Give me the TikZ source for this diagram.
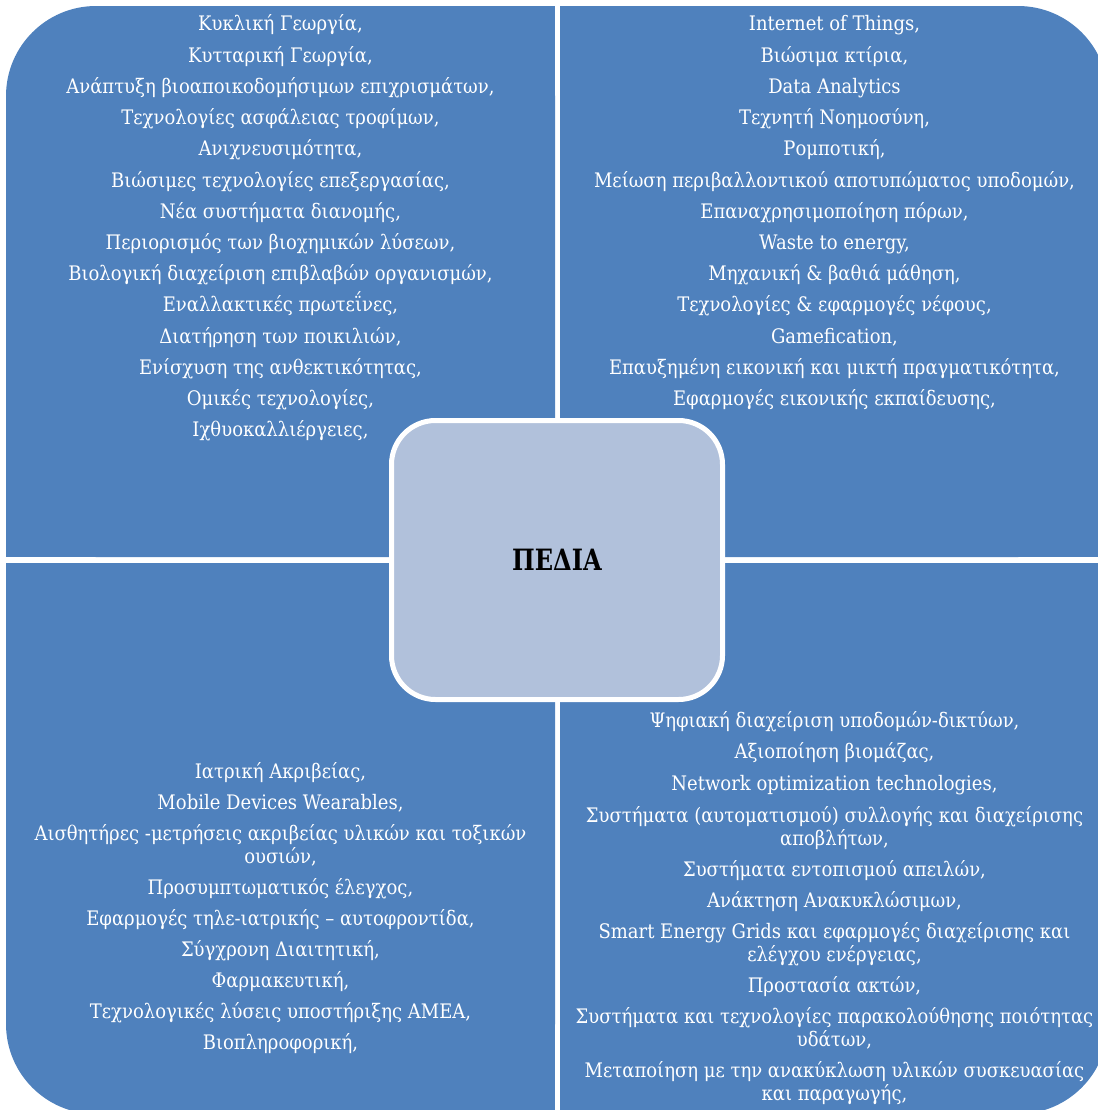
\documentclass[tikz,border=0pt]{standalone}
\usepackage{fontspec}
\setmainfont{DejaVu Serif}[FakeStretch=0.9]
\newfontfamily\titlefont{DejaVu Serif}[FakeStretch=0.82]
\definecolor{quad}{HTML}{4F81BD}
\definecolor{hubfill}{HTML}{B1C1DB}
\tikzset{
  quadfill/.style={fill=quad},
  quadround/.style={fill=quad, rounded corners=67.5pt},
  item/.style={text=white, anchor=base, inner sep=0pt, font=\fontsize{15pt}{18pt}\selectfont},
  hubbox/.style={draw=white, line width=3.75pt, fill=hubfill, rounded corners=33pt,
    minimum width=248.25pt, minimum height=209.25pt, inner sep=0pt,
    font=\titlefont\bfseries\fontsize{22pt}{26pt}\selectfont, text=black}
}
\begin{document}
\begin{tikzpicture}[x=0.75pt,y=-0.75pt]
\useasboundingbox (0,0) rectangle (1098,1110);
\clip (0,0) rectangle (1098,1110);
% top-left quadrant
\fill[quadround] (6,6) rectangle (555,557);
\fill[quadfill] (96,6) rectangle (555,557);
\fill[quadfill] (6,96) rectangle (555,557);
% top-right quadrant
\fill[quadround] (560,6) rectangle (1108,557);
\fill[quadfill] (560,6) rectangle (1018,557);
\fill[quadfill] (560,96) rectangle (1108,557);
% bottom-left quadrant
\fill[quadround] (6,563) rectangle (555,1114);
\fill[quadfill] (6,563) rectangle (555,1024);
\fill[quadfill] (96,563) rectangle (555,1114);
% bottom-right quadrant
\fill[quadround] (560,563) rectangle (1108,1114);
\fill[quadfill] (560,563) rectangle (1108,1024);
\fill[quadfill] (560,563) rectangle (1018,1114);

% top-left texts
\node[item] (tl1) at (280.5,31) {Κυκλική Γεωργία,};
\node[item] (tl2) at (280.5,62.2) {Κυτταρική Γεωργία,};
\node[item] (tl3) at (280.5,93.4) {Ανάπτυξη βιοαποικοδομήσιμων επιχρισμάτων,};
\node[item] (tl4) at (280.5,124.6) {Τεχνολογίες ασφάλειας τροφίμων,};
\node[item] (tl5) at (280.5,155.8) {Ανιχνευσιμότητα,};
\node[item] (tl6) at (280.5,187) {Βιώσιμες τεχνολογίες επεξεργασίας,};
\node[item] (tl7) at (280.5,218.2) {Νέα συστήματα διανομής,};
\node[item] (tl8) at (280.5,249.4) {Περιορισμός των βιοχημικών λύσεων,};
\node[item] (tl9) at (280.5,280.6) {Βιολογική διαχείριση επιβλαβών οργανισμών,};
\node[item] (tl10) at (280.5,311.8) {Εναλλακτικές πρωτεΐνες,};
\node[item] (tl11) at (280.5,343) {Διατήρηση των ποικιλιών,};
\node[item] (tl12) at (280.5,374.2) {Ενίσχυση της ανθεκτικότητας,};
\node[item] (tl13) at (280.5,405.4) {Ομικές τεχνολογίες,};
\node[item] (tl14) at (280.5,436.6) {Ιχθυοκαλλιέργειες,};

% top-right texts
\node[item] (tr1) at (834.5,31) {Internet of Things,};
\node[item] (tr2) at (834.5,62.2) {Βιώσιμα κτίρια,};
\node[item] (tr3) at (834.5,93.4) {Data Analytics};
\node[item] (tr4) at (834.5,124.6) {Τεχνητή Νοημοσύνη,};
\node[item] (tr5) at (834.5,155.8) {Ρομποτική,};
\node[item] (tr6) at (834.5,187) {Μείωση περιβαλλοντικού αποτυπώματος υποδομών,};
\node[item] (tr7) at (834.5,218.2) {Επαναχρησιμοποίηση πόρων,};
\node[item] (tr8) at (834.5,249.4) {Waste to energy,};
\node[item] (tr9) at (834.5,280.6) {Μηχανική \& βαθιά μάθηση,};
\node[item] (tr10) at (834.5,311.8) {Τεχνολογίες \& εφαρμογές νέφους,};
\node[item] (tr11) at (834.5,343) {Gamefication,};
\node[item] (tr12) at (834.5,374.2) {Επαυξημένη εικονική και μικτή πραγματικότητα,};
\node[item] (tr13) at (834.5,405.4) {Εφαρμογές εικονικής εκπαίδευσης,};

% bottom-left texts
\node[item] (bl1) at (280.5,778) {Ιατρική Ακριβείας,};
\node[item] (bl2) at (280.5,809) {Mobile Devices Wearables,};
\node[item] (bl3a) at (280.5,840) {Αισθητήρες -μετρήσεις ακριβείας υλικών και τοξικών};
\node[item] (bl3b) at (280.5,863) {ουσιών,};
\node[item] (bl4) at (280.5,894) {Προσυμπτωματικός έλεγχος,};
\node[item] (bl5) at (280.5,925) {Εφαρμογές τηλε-ιατρικής – αυτοφροντίδα,};
\node[item] (bl6) at (280.5,956) {Σύγχρονη Διαιτητική,};
\node[item] (bl7) at (280.5,987) {Φαρμακευτική,};
\node[item] (bl8) at (280.5,1018) {Τεχνολογικές λύσεις υποστήριξης ΑΜΕΑ,};
\node[item] (bl9) at (280.5,1049) {Βιοπληροφορική,};

% bottom-right texts
\node[item] (br1) at (834.5,727) {Ψηφιακή διαχείριση υποδομών-δικτύων,};
\node[item] (br2) at (834.5,758) {Αξιοποίηση βιομάζας,};
\node[item] (br3) at (834.5,790) {Network optimization technologies,};
\node[item] (br4a) at (834.5,822) {Συστήματα (αυτοματισμού) συλλογής και διαχείρισης};
\node[item] (br4b) at (834.5,845) {αποβλήτων,};
\node[item] (br5) at (834.5,876) {Συστήματα εντοπισμού απειλών,};
\node[item] (br6) at (834.5,907) {Ανάκτηση Ανακυκλώσιμων,};
\node[item] (br7a) at (834.5,938) {Smart Energy Grids και εφαρμογές διαχείρισης και};
\node[item] (br7b) at (834.5,961) {ελέγχου ενέργειας,};
\node[item] (br8) at (834.5,992) {Προστασία ακτών,};
\node[item] (br9a) at (834.5,1023) {Συστήματα και τεχνολογίες παρακολούθησης ποιότητας};
\node[item] (br9b) at (834.5,1046) {υδάτων,};
\node[item] (br10a) at (834.5,1077) {Μεταποίηση με την ανακύκλωση υλικών συσκευασίας};
\node[item] (br10b) at (834.5,1100) {και παραγωγής,};

% centre box
\node[hubbox] (hub) at (557,560) {ΠΕΔΙΑ};
\end{tikzpicture}
\end{document}
